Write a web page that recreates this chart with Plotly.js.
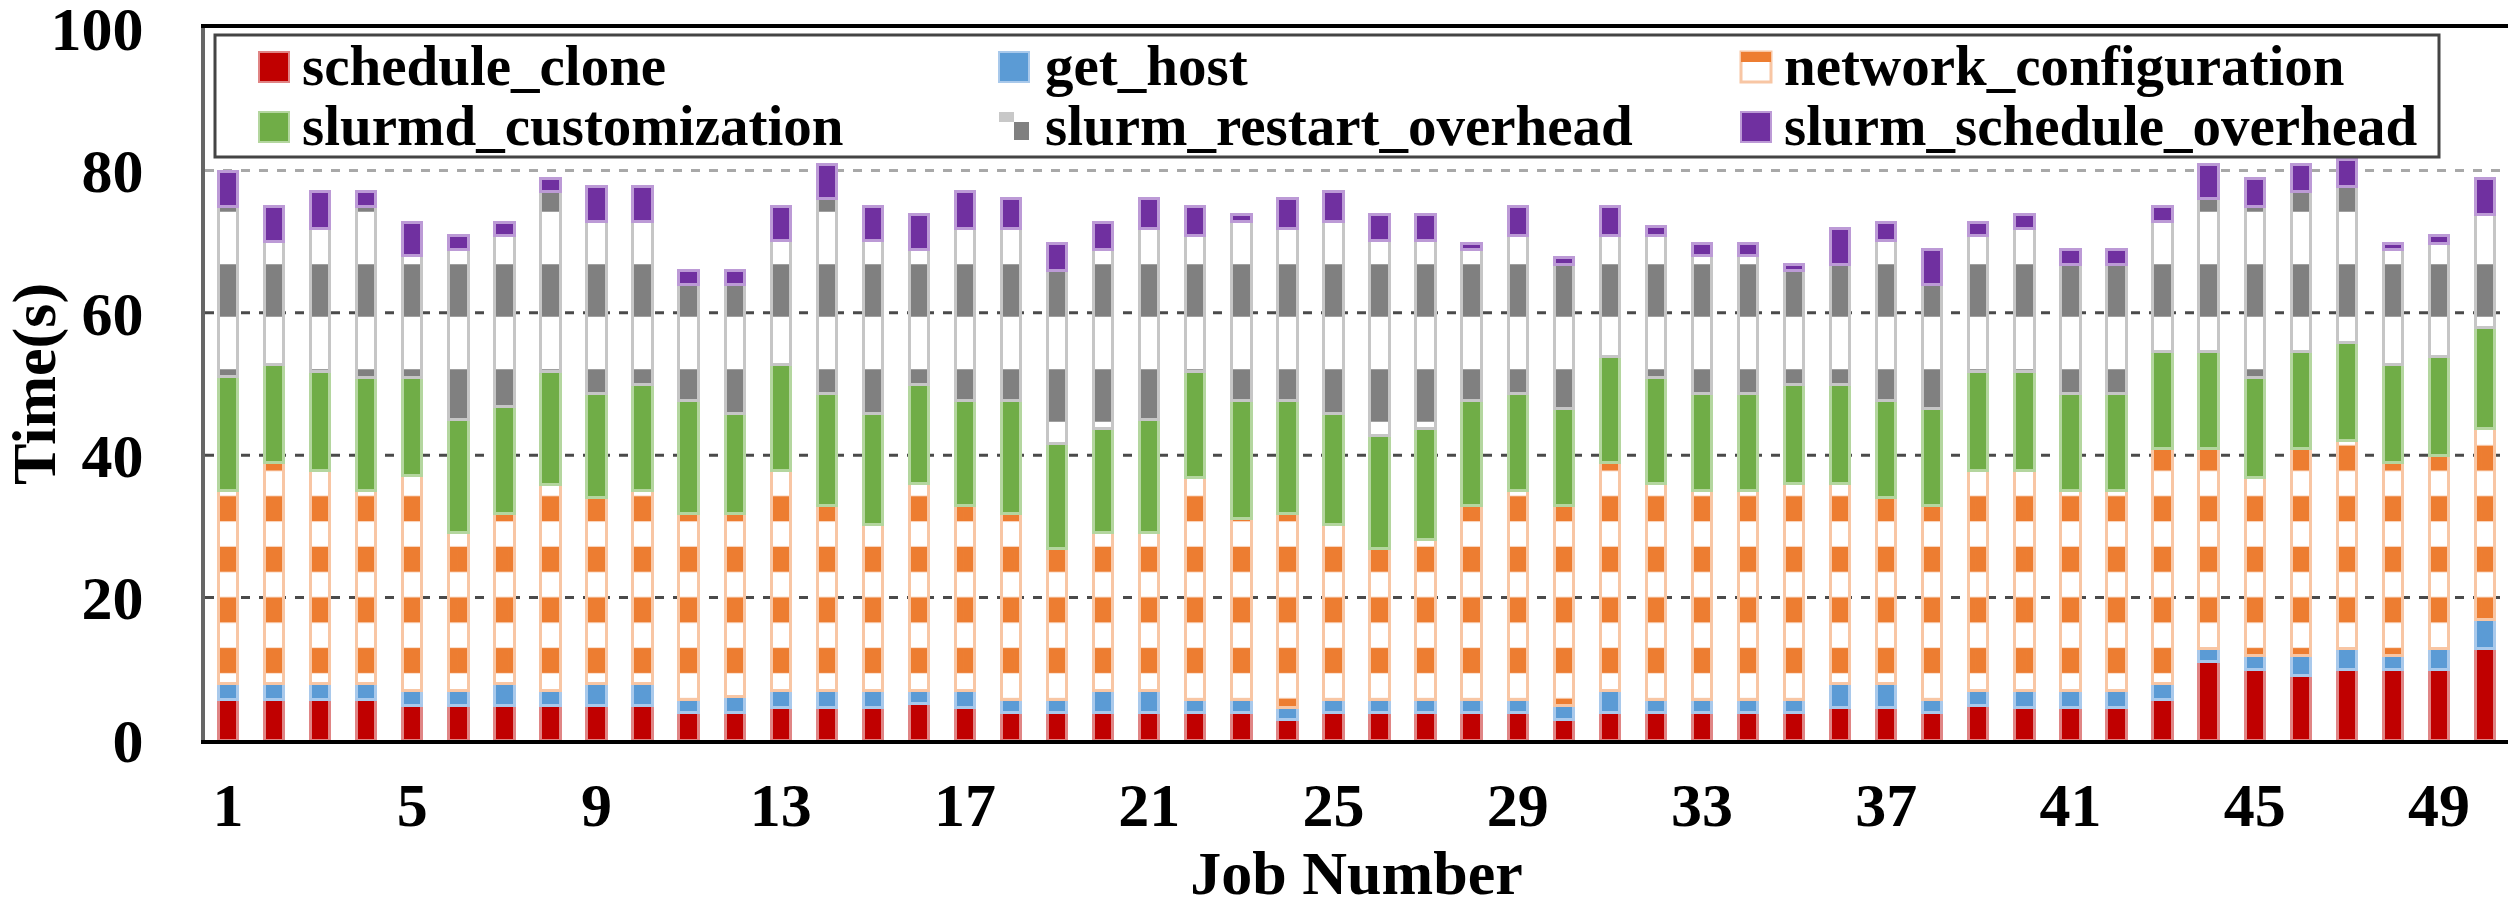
<!DOCTYPE html>
<html>
<head>
<meta charset="utf-8">
<script src="https://cdn.plot.ly/plotly-3.0.1.min.js"></script>
<style>html,body{margin:0;padding:0;background:#fff;}#chart{width:2508px;height:909px;}</style>
</head>
<body>
<div id="chart"></div>
<script>
// ---------------- data ----------------
const jobs = Array.from({length: 50}, (_, i) => i + 1);

const scheduleClone = [5.7,5.7,5.7,5.7,4.9,4.9,4.9,4.9,4.9,4.9,
  3.8,3.8,4.6,4.6,4.6,5.1,4.6,3.8,3.8,3.8,
  3.8,3.8,3.8,2.9,3.8,3.8,3.8,3.8,3.8,2.9,
  3.8,3.8,3.8,3.8,3.8,4.6,4.6,3.8,4.9,4.6,
  4.6,4.6,5.7,11.0,9.9,9.0,9.9,9.9,9.9,12.8];

const getHost = [2.3,2.3,2.3,2.3,2.0,2.0,3.1,2.0,3.1,3.1,
  1.9,2.3,2.3,2.3,2.3,1.8,2.3,1.9,1.9,3.1,
  3.1,1.9,1.9,1.7,1.9,1.9,1.9,1.9,1.9,2.0,
  3.1,1.9,1.9,1.9,1.9,3.4,3.4,1.9,2.0,2.3,
  2.3,2.3,2.3,1.8,1.9,2.8,2.9,1.9,2.9,4.1];

const networkConfiguration = [27.0,31.0,29.9,27.0,30.2,22.2,23.8,29.0,26.0,27.0,
  26.1,25.7,31.0,26.1,23.3,29.1,26.1,26.1,21.2,22.2,
  22.2,31.2,25.4,27.2,24.5,21.2,22.4,27.3,29.3,28.1,
  32.1,30.3,29.3,29.3,30.3,28.0,26.0,27.3,31.0,31.0,
  28.1,28.1,33.0,28.2,25.1,29.2,29.2,27.2,27.1,26.9];

const slurmdCustomization = [16.1,13.7,13.9,15.9,13.8,15.9,15.1,15.9,14.7,14.9,
  15.9,14.1,14.8,15.7,15.7,13.9,14.7,15.9,14.8,14.7,
  15.9,14.9,16.6,15.9,15.7,15.9,15.7,14.7,13.7,13.6,
  14.8,14.9,13.7,13.7,13.9,13.9,13.7,13.6,13.9,13.9,
  13.7,13.7,13.6,13.6,14.0,13.6,13.8,13.7,13.9,14.1];

const slurmRestartOverhead = [23.9,17.3,20.1,24.1,17.1,23.9,24.0,25.2,24.1,22.9,
  16.3,18.1,17.4,27.3,24.2,19.0,24.2,24.2,24.2,25.1,
  26.9,19.1,25.1,24.2,26.9,27.3,26.3,21.2,22.2,20.2,
  17.1,20.0,19.3,19.3,16.0,16.9,22.4,17.4,19.1,20.1,
  18.1,18.1,18.2,21.4,24.1,22.4,22.0,16.2,16.0,15.9];

const slurmScheduleOverhead = [4.9,5.0,5.1,2.0,4.7,2.0,1.8,1.8,5.0,5.0,
  2.0,2.0,4.9,4.8,4.9,4.9,5.1,4.1,3.9,3.8,
  4.1,4.1,1.0,4.1,4.2,3.7,3.7,0.9,4.1,1.0,
  4.1,1.2,1.8,1.8,0.9,5.1,2.6,4.9,1.8,1.9,
  2.1,2.1,2.2,4.8,3.8,3.8,3.7,0.9,1.1,5.0];

const seriesNames = ['schedule_clone','get_host','network_configuration',
  'slurmd_customization','slurm_restart_overhead','slurm_schedule_overhead'];

const xTickVals = [1,5,9,13,17,21,25,29,33,37,41,45,49];
const xTickText = ['1','5','9','13','17','21','25','29','33','37','41','45','49'];
const yTickVals = [0,20,40,60,80,100];
const yTickText = ['0','20','40','60','80','100'];
const gridVals = [20,40,60,80];

// ---------------- style ----------------
const FONT = "'Liberation Serif', 'Times New Roman', serif";
const colors = ['#C00000','#5B9BD5','#ED7D31','#70AD47','#808080','#7030A0'];
const edges  = ['#E08585','#A9C9EB','#F8C6A4','#B4D69F','#C6C6C6','#BC9AD6'];
const values = [scheduleClone,getHost,networkConfiguration,slurmdCustomization,slurmRestartOverhead,slurmScheduleOverhead];

const traces = values.map((vals, i) => {
  const marker = {color: colors[i], line: {color: edges[i], width: 3}};
  if (i === 2) {
    marker.color = '#ffffff';
    marker.pattern = {shape: '-', fgcolor: colors[i], bgcolor: '#ffffff', fgopacity: 1, size: 50.6, solidity: 0.5, fillmode: 'overlay'};
  }
  if (i === 4) {
    marker.color = '#ffffff';
    marker.pattern = {shape: '-', fgcolor: colors[i], bgcolor: '#ffffff', fgopacity: 1, size: 105, solidity: 0.5, fillmode: 'overlay'};
  }
  return {type: 'bar', x: jobs, y: vals, name: seriesNames[i], marker: marker, showlegend: false, hoverinfo: 'x+y+name'};
});

// plot-area geometry helpers (page px -> paper)
const ML = 205, MT = 28, PW = 2303, PH = 712;
const px = x => (x - ML) / PW;
const py = y => (MT + PH - y) / PH;

const shapes = [];
gridVals.forEach(v => {
  shapes.push({type: 'line', xref: 'paper', yref: 'y', x0: 0, x1: 1, y0: v, y1: v, layer: 'below',
    line: {color: v === 80 ? '#A8A8A8' : '#4a4a4a', width: 3, dash: 'dash'}});
});

// manual legend
shapes.push({type: 'rect', xref: 'paper', yref: 'paper', x0: px(215), x1: px(2439), y0: py(157), y1: py(35),
  line: {color: '#444', width: 3}, fillcolor: '#ffffff', layer: 'above'});
const legX = [259, 999, 1741];
const legTextX = [300, 1043, 1782];
const legY = [52, 112];
const legTextY = [66, 126];
const annotations = [];
seriesNames.forEach((name, i) => {
  const c = i % 3, r = Math.floor(i / 3);
  const x0 = legX[c], y0 = legY[r], s = 30;
  if (i === 2) {
    shapes.push({type: 'rect', xref: 'paper', yref: 'paper', x0: px(x0), x1: px(x0 + s), y0: py(y0 + s), y1: py(y0),
      line: {color: edges[i], width: 3}, fillcolor: '#ffffff', layer: 'above'});
    shapes.push({type: 'rect', xref: 'paper', yref: 'paper', x0: px(x0), x1: px(x0 + s), y0: py(y0 + 10), y1: py(y0),
      line: {width: 0}, fillcolor: colors[i], layer: 'above'});
  } else if (i === 4) {
    shapes.push({type: 'rect', xref: 'paper', yref: 'paper', x0: px(x0), x1: px(x0 + 15), y0: py(y0 + 10), y1: py(y0),
      line: {width: 0}, fillcolor: '#C8C8C8', layer: 'above'});
    shapes.push({type: 'rect', xref: 'paper', yref: 'paper', x0: px(x0 + 15), x1: px(x0 + s), y0: py(y0 + s - 2), y1: py(y0 + 10),
      line: {width: 0}, fillcolor: colors[i], layer: 'above'});
  } else {
    shapes.push({type: 'rect', xref: 'paper', yref: 'paper', x0: px(x0), x1: px(x0 + s), y0: py(y0 + s), y1: py(y0),
      line: {color: edges[i], width: 2}, fillcolor: colors[i], layer: 'above'});
  }
  annotations.push({xref: 'paper', yref: 'paper', x: px(legTextX[c]), y: py(legTextY[r]), xanchor: 'left', yanchor: 'middle',
    showarrow: false, text: name, font: {family: FONT, size: 57, weight: 'bold', color: '#000'}});
});

const layout = {
  width: 2508, height: 909,
  margin: {l: ML, r: 0, t: MT, b: 909 - MT - PH},
  paper_bgcolor: '#ffffff', plot_bgcolor: '#ffffff',
  barmode: 'stack', bargap: 0.58,
  showlegend: false,
  font: {family: FONT, color: '#000'},
  xaxis: {
    range: [0.5, 50.5], tickmode: 'array', tickvals: xTickVals, ticktext: xTickText,
    tickfont: {family: FONT, size: 62, weight: 'bold', color: '#000'},
    ticks: '', ticklabelstandoff: 8, ticklabeloverflow: 'allow',
    showline: true, linecolor: '#000', linewidth: 4, mirror: true,
    showgrid: false, zeroline: false,
    title: {text: 'Job Number', font: {family: FONT, size: 62, weight: 'bold', color: '#000'}, standoff: 6}
  },
  yaxis: {
    range: [0, 100], tickmode: 'array', tickvals: yTickVals, ticktext: yTickText,
    tickfont: {family: FONT, size: 62, weight: 'bold', color: '#000'},
    ticks: '', ticklabelstandoff: 45, ticklabeloverflow: 'allow',
    showline: true, linecolor: '#666', linewidth: 4,
    showgrid: false, zeroline: false,
    title: {text: 'Time(s)', font: {family: FONT, size: 62, weight: 'bold', color: '#000'}, standoff: 0}
  },
  shapes: shapes,
  annotations: annotations
};

Plotly.newPlot('chart', traces, layout, {staticPlot: true, displayModeBar: false});
</script>
</body>
</html>
